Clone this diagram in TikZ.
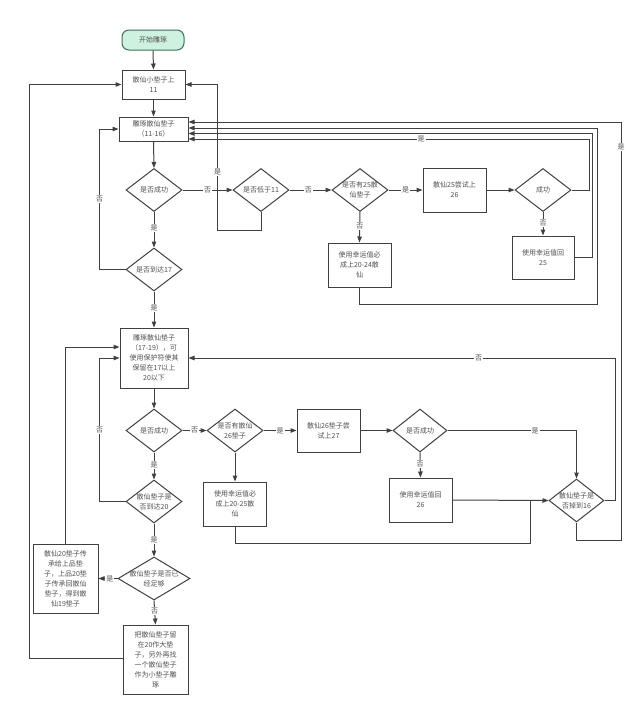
\documentclass[tikz,border=0pt]{standalone}
\usepackage{fontspec}
\setmainfont{Noto Sans CJK SC}
\usetikzlibrary{arrows.meta,shapes.geometric}
\definecolor{ln}{HTML}{404040}
\definecolor{tx}{HTML}{505050}
\definecolor{startfill}{HTML}{CFF2E0}
\definecolor{startdraw}{HTML}{3E6E60}
\tikzset{
  every node/.style={font=\fontsize{7}{10}\selectfont, text=tx},
  box/.style={draw=ln, line width=1pt, rectangle, align=center, inner sep=1pt},
  dia/.style={draw=ln, line width=1pt, diamond, minimum width=56pt, minimum height=43pt, inner sep=0pt},
  dtext/.style={align=center, inner sep=0pt, font=\fontsize{7}{10}\selectfont, text=tx},
  arr/.style={draw=ln, line width=1pt, -{Triangle[length=6pt,width=4.5pt]}},
  ln/.style={draw=ln, line width=1pt},
  lbl/.style={fill=white, inner sep=1pt, font=\fontsize{7}{8}\selectfont}
}
\begin{document}
\begin{tikzpicture}[x=1pt,y=-1pt]
\useasboundingbox (0,0) rectangle (640,713);
% ---------- nodes ----------
\node[draw=startdraw, fill=startfill, line width=1pt, rounded corners=7pt, minimum width=62pt, minimum height=20pt] (start) at (153,40) {开始雕琢};
\node[box, minimum width=63pt, minimum height=29pt] (b1) at (153.5,84.5) {散仙小垫子上\\11};
\node[box, minimum width=69pt, minimum height=24pt] (b2) at (153.5,129) {雕琢散仙垫子\\（11-16）};
\node[dia, label={[dtext]center:{是否成功}}] (d1) at (154,190) {};
\node[dia, label={[dtext]center:{是否低于11}}] (d2) at (261,190) {};
\node[dia, label={[dtext]center:{是否有25散\\仙垫子}}] (d3) at (360,190) {};
\node[box, minimum width=63pt, minimum height=44pt] (b26) at (454.5,190) {散仙25尝试上\\26};
\node[dia, label={[dtext]center:{成功}}] (d4) at (543,190) {};
\node[box, minimum width=63pt, minimum height=44pt] (b2024) at (359.5,265) {使用幸运值必\\成上20-24散\\仙};
\node[box, minimum width=62pt, minimum height=43pt] (b25) at (543,257.5) {使用幸运值回\\25};
\node[dia, label={[dtext]center:{是否到达17}}] (d5) at (154,269.5) {};
\node[box, minimum width=68pt, minimum height=60pt] (b1719) at (154,358) {雕琢散仙垫子\\（17-19），可\\使用保护符使其\\保留在17以上\\20以下};
\node[dia, label={[dtext]center:{是否成功}}] (d6) at (154,430.5) {};
\node[dia, label={[dtext]center:{是否有散仙\\26垫子}}] (d7) at (235,430.5) {};
\node[box, minimum width=63pt, minimum height=43pt] (b27) at (328.5,430.5) {散仙26垫子尝\\试上27};
\node[dia, minimum width=54pt, label={[dtext]center:{是否成功}}] (d8) at (420,430.5) {};
\node[box, minimum width=63pt, minimum height=44pt] (b2025) at (235,504) {使用幸运值必\\成上20-25散\\仙};
\node[box, minimum width=63pt, minimum height=44pt] (bh26) at (420.5,500) {使用幸运值回\\26};
\node[dia, minimum width=55pt, label={[dtext]center:{散仙垫子是\\否掉到16}}] (d16) at (576.5,500.5) {};
\node[dia, label={[dtext]center:{散仙垫子是\\否到达20}}] (d9) at (154,501.5) {};
\node[dia, minimum width=72pt, label={[dtext]center:{散仙垫子是否已\\经足够}}] (d10) at (154,578.5) {};
\node[box, minimum width=65pt, minimum height=69pt] (bch) at (65.5,578.5) {散仙20垫子传\\承给上品垫\\子，上品20垫\\子传承回散仙\\垫子，得到散\\仙19垫子};
\node[box, minimum width=65pt, minimum height=69pt] (blast) at (155.5,659.5) {把散仙垫子留\\在20作大垫\\子，另外再找\\一个散仙垫子\\作为小垫子雕\\琢};
% helper coordinates
\coordinate (r1) at (597,304);
\coordinate (r2) at (621,540);
\coordinate (r3) at (615,500.5);
\coordinate (j2) at (530,543);
\coordinate (lp) at (29,658);
% ---------- connectors (top part) ----------
\draw[arr] (start.south) -- (b1.north);
\draw[arr] (b1.south) -- (b2.north);
\draw[arr] (b2.south) -- (d1.north);
\draw[arr] (d1.east) -- node[lbl,pos=0.5]{否} (d2.west);
\draw[arr] (d2.east) -- node[lbl,pos=0.45]{否} (d3.west);
\draw[arr] (d3.east) -- node[lbl,pos=0.5]{是} (b26.west);
\draw[arr] (b26.east) -- (d4.west);
\draw[arr] (d4.south) -- node[lbl,pos=0.45]{否} (b25.north);
\draw[arr] (d3.south) -- node[lbl,pos=0.45]{否} (b2024.north);
\draw[arr] (d1.south) -- node[lbl,pos=0.45]{是} (d5.north);
\draw[arr] (d5.south) -- node[lbl,pos=0.45]{是} (b1719.north);
\draw[arr] (d5.west) -- ++(-26,0) |- node[lbl,pos=0.25]{否} (b2.west);
\draw[arr] (d2.south) -- ++(0,18) -| node[lbl,pos=0.7]{是} ([xshift=32pt]b1.east) -- (b1.east);
\draw[arr] (d4.east) -- ++(18,0) |- node[lbl,pos=0.71]{是} ([yshift=-10pt]b2.east);
\draw[arr] (b25.east) -- ++(18,0) |- ([yshift=-4.5pt]b2.east);
\draw[arr] (b2024.south) |- (r1) |- ([yshift=1pt]b2.east);
\draw[arr] (d16.south) |- (r2) |- node[lbl,pos=0.47]{是} ([yshift=7pt]b2.east);
% ---------- connectors (bottom part) ----------
\draw[arr] (b1719.south) -- (d6.north);
\draw[arr] (d6.east) -- node[lbl,pos=0.5]{否} (d7.west);
\draw[arr] (d7.east) -- node[lbl,pos=0.5]{是} (b27.west);
\draw[arr] (b27.east) -- (d8.west);
\draw[arr] (d8.south) -- node[lbl,pos=0.45]{否} (bh26.north);
\draw[arr] (d7.south) -- (b2025.north);
\draw[arr] (d8.east) -| node[lbl,pos=0.34]{是} (d16.north);
\draw[arr] (bh26.east) -- (d16.west);
\draw[ln] (b2025.south) |- (j2) -- (j2 |- d16.west);
\draw[arr] (d16.east) -- (r3) |- node[lbl,pos=0.66]{否} (b1719.east);
\draw[arr] (d6.south) -- node[lbl,pos=0.45]{是} (d9.north);
\draw[arr] (d9.south) -- node[lbl,pos=0.5]{是} (d10.north);
\draw[arr] (d10.south) -- node[lbl,pos=0.45]{否} (blast.north);
\draw[arr] (d9.west) -- ++(-26,0) |- node[lbl,pos=0.25]{否} (b1719.west);
\draw[arr] (d10.west) -- node[lbl,pos=0.4]{是} (bch.east);
\draw[arr] (bch.north) |- ([yshift=11pt]b1719.west);
\draw[arr] (blast.west |- lp) -- (lp) |- (b1.west);
\end{tikzpicture}
\end{document}
